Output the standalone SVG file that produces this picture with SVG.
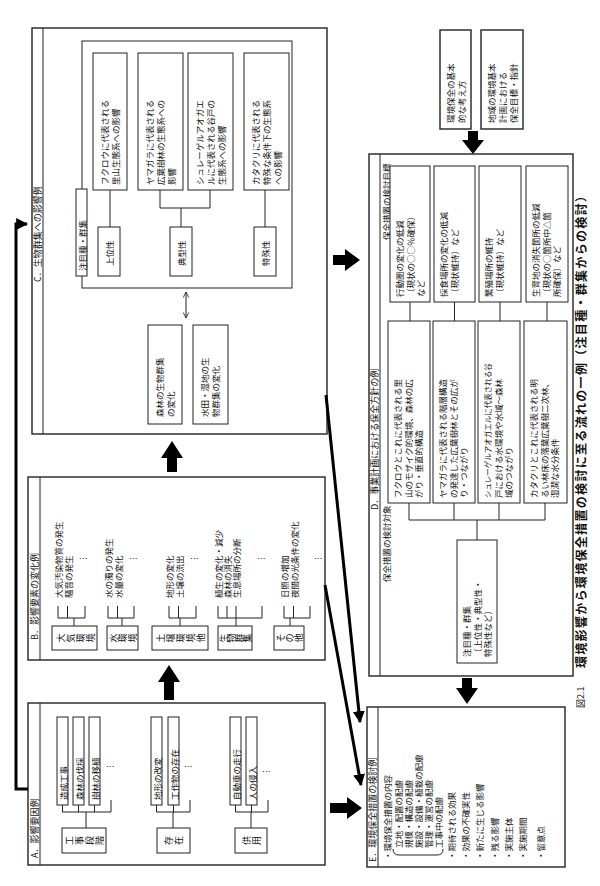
<svg xmlns="http://www.w3.org/2000/svg" width="600" height="886" viewBox="0 0 600 886">
<defs>
<style>
.bx{fill:#fff;stroke:#222;stroke-width:1}
.pn{fill:#fff;stroke:#222;stroke-width:1.4}
.ln{fill:none;stroke:#222;stroke-width:1}
.th{fill:none;stroke:#000;stroke-width:3}
.fa{fill:#000}
text{font-family:"Noto Sans CJK JP","Noto Sans CJK SC",sans-serif;font-size:8.5px;fill:#111}
.u{dominant-baseline:central}
.lb{font-size:9px}
.c{font-size:9px;text-anchor:middle;dominant-baseline:central}
.ti{font-size:12px;font-weight:bold}
</style>
<marker id="ah" viewBox="0 0 10 10" refX="9" refY="5" markerWidth="4" markerHeight="4" orient="auto"><path d="M0,0L10,5L0,10z" fill="#000"/></marker>
<marker id="oh" viewBox="0 0 10 10" refX="9" refY="5" markerWidth="7" markerHeight="7" orient="auto-start-reverse"><path d="M1,1L9,5L1,9" fill="none" stroke="#222" stroke-width="1.2"/></marker>
</defs>

<!-- Panel A -->
<g id="panelA">
<rect class="pn" x="28" y="703" width="297" height="162"/>
<line class="ln" x1="40" y1="703" x2="40" y2="865"/>
<g transform="translate(34,858) rotate(-90)"><text class="u lb">A．影響要因例</text></g>
<rect class="bx" x="57" y="717" width="11" height="88"/><g transform="translate(62.5,800) rotate(-90)"><text class="u">造成工事</text></g>
<rect class="bx" x="73" y="717" width="11" height="88"/><g transform="translate(78.5,800) rotate(-90)"><text class="u">森林の伐採</text></g>
<rect class="bx" x="89" y="717" width="11" height="88"/><g transform="translate(94.5,800) rotate(-90)"><text class="u">樹林の移植</text></g>
<text x="106" y="770">…</text>
<path class="ln" d="M62.5,805V812M78.5,805V812M94.5,805V812M111,800V812M62.5,812H111M86,812V828"/>
<rect class="bx" x="62" y="828" width="44" height="25"/>
<g transform="translate(69,840.5) rotate(-90)"><text class="c">工</text></g><g transform="translate(79,840.5) rotate(-90)"><text class="c">事</text></g><g transform="translate(89,840.5) rotate(-90)"><text class="c">段</text></g><g transform="translate(99,840.5) rotate(-90)"><text class="c">階</text></g>
<rect class="bx" x="151" y="717" width="11" height="88"/><g transform="translate(156.5,800) rotate(-90)"><text class="u">地形の改変</text></g>
<rect class="bx" x="168" y="717" width="11" height="88"/><g transform="translate(173.5,800) rotate(-90)"><text class="u">工作物の存在</text></g>
<text x="184" y="770">…</text>
<path class="ln" d="M156.5,805V812M173.5,805V812M190,800V812M156.5,812H190M173,812V828"/>
<rect class="bx" x="157" y="828" width="33" height="25"/>
<g transform="translate(168.5,840.5) rotate(-90)"><text class="c">存</text></g><g transform="translate(178.5,840.5) rotate(-90)"><text class="c">在</text></g>
<rect class="bx" x="230" y="717" width="11" height="88"/><g transform="translate(235.5,800) rotate(-90)"><text class="u">自動車の走行</text></g>
<rect class="bx" x="246" y="717" width="11" height="88"/><g transform="translate(251.5,800) rotate(-90)"><text class="u">人の侵入</text></g>
<text x="262" y="775">…</text>
<path class="ln" d="M235.5,805V812M251.5,805V812M268,800V812M235.5,812H268M251,812V828"/>
<rect class="bx" x="235" y="828" width="32" height="25"/>
<g transform="translate(246,840.5) rotate(-90)"><text class="c">供</text></g><g transform="translate(256,840.5) rotate(-90)"><text class="c">用</text></g>
</g>

<!-- Panel B -->
<g id="panelB">
<rect class="pn" x="28" y="477" width="297" height="183"/>
<line class="ln" x1="40" y1="477" x2="40" y2="660"/>
<g transform="translate(34,640) rotate(-90)"><text class="u lb">B．影響要素の変化例</text></g>
<g transform="translate(58,598) rotate(-90)"><text class="u">大気汚染物質の発生<tspan x="0" dy="9.5">騒音の発生</tspan></text></g>
<text x="79" y="562">…</text>
<path class="ln" d="M58,606V618M67.5,606V618M85,606V618M58,618H85M74,618V626"/>
<rect class="bx" x="52" y="626" width="45" height="24"/>
<g transform="translate(60,638) rotate(-90)"><text class="c">大</text></g><g transform="translate(70,638) rotate(-90)"><text class="c">気</text></g><g transform="translate(80,638) rotate(-90)"><text class="c">環</text></g><g transform="translate(90,638) rotate(-90)"><text class="c">境</text></g>
<g transform="translate(108,598) rotate(-90)"><text class="u">水の濁りの発生<tspan x="0" dy="9.5">水量の変化</tspan></text></g>
<text x="129" y="562">…</text>
<path class="ln" d="M108,606V618M117.5,606V618M134,606V618M108,618H134M122,618V626"/>
<rect class="bx" x="107" y="626" width="31" height="24"/>
<g transform="translate(113,638) rotate(-90)"><text class="c">水</text></g><g transform="translate(122.5,638) rotate(-90)"><text class="c">環</text></g><g transform="translate(132,638) rotate(-90)"><text class="c">境</text></g>
<g transform="translate(169,598) rotate(-90)"><text class="u">地形の変化<tspan x="0" dy="9.5">土壌の流出</tspan></text></g>
<text x="190" y="562">…</text>
<path class="ln" d="M169,606V618M178.5,606V618M196,606V618M169,618H196M180,618V626"/>
<rect class="bx" x="152" y="626" width="56" height="24"/>
<g transform="translate(160,638) rotate(-90)"><text class="c">土</text></g><g transform="translate(170,638) rotate(-90)"><text class="c">壌</text></g><g transform="translate(180,638) rotate(-90)"><text class="c">環</text></g><g transform="translate(190,638) rotate(-90)"><text class="c">境</text></g><g transform="translate(200,638) rotate(-90)"><text class="c">他</text></g>
<g transform="translate(218,598) rotate(-90)"><text class="u">植生の変化・減少<tspan x="0" dy="9">森林の消失</tspan><tspan x="0" dy="9">生息場所の分断</tspan></text></g>
<text x="257" y="562">…</text>
<path class="ln" d="M218,606V618M227,606V618M236,606V618M262,606V618M218,618H262M236,618V626"/>
<rect class="bx" x="218" y="626" width="34" height="24"/>
<g transform="translate(223,638) rotate(-90)"><text class="c">生</text></g><g transform="translate(231,638) rotate(-90)"><text class="c">物</text></g><g transform="translate(239,638) rotate(-90)"><text class="c">群</text></g><g transform="translate(247,638) rotate(-90)"><text class="c">集</text></g>
<g transform="translate(284,598) rotate(-90)"><text class="u">日照の増加<tspan x="0" dy="9.5">夜間の光条件の変化</tspan></text></g>
<text x="314" y="562">…</text>
<path class="ln" d="M284,606V618M293.5,606V618M310,606V618M284,618H310M290,618V626"/>
<rect class="bx" x="274" y="626" width="30" height="24"/>
<g transform="translate(280,638) rotate(-90)"><text class="c">そ</text></g><g transform="translate(289,638) rotate(-90)"><text class="c">の</text></g><g transform="translate(298,638) rotate(-90)"><text class="c">他</text></g>
</g>

<!-- Panel C -->
<g id="panelC">
<rect class="pn" x="32" y="28" width="295" height="406"/>
<line class="ln" x1="43" y1="28" x2="43" y2="434"/>
<g transform="translate(37.5,282) rotate(-90)"><text class="u lb">C．生物群集への影響例</text></g>
<rect class="ln" x="82" y="41" width="210" height="247"/>
<rect class="bx" x="93" y="53" width="34" height="137"/>
<g transform="translate(104,185) rotate(-90)"><text class="u">フクロウに代表される<tspan x="0" dy="11">里山生態系への影響</tspan></text></g>
<rect class="bx" x="138" y="53" width="45" height="137"/>
<g transform="translate(149,185) rotate(-90)"><text class="u">ヤマガラに代表される<tspan x="0" dy="11">広葉樹林の生態系への</tspan><tspan x="0" dy="11">影響</tspan></text></g>
<rect class="bx" x="188" y="53" width="45" height="137"/>
<g transform="translate(199,185) rotate(-90)"><text class="u">シュレーゲルアオガエ<tspan x="0" dy="11">ルに代表される谷戸の</tspan><tspan x="0" dy="11">生態系への影響</tspan></text></g>
<rect class="bx" x="244" y="53" width="45" height="137"/>
<g transform="translate(255,185) rotate(-90)"><text class="u">カタクリに代表される<tspan x="0" dy="11">特殊な条件下の生態系</tspan><tspan x="0" dy="11">への影響</tspan></text></g>
<path class="ln" d="M110,190V227M160,190V208M210,190V208M160,208H210M181,208V227M265,190V227"/>
<rect class="bx" x="76" y="189" width="11" height="87"/><g transform="translate(81.5,271) rotate(-90)"><text class="u">注目種・群集</text></g>
<rect class="bx" x="98" y="227" width="22" height="49"/><g transform="translate(109,266) rotate(-90)"><text class="u">上位性</text></g>
<rect class="bx" x="170" y="227" width="22" height="49"/><g transform="translate(181,266) rotate(-90)"><text class="u">典型性</text></g>
<rect class="bx" x="254" y="227" width="22" height="49"/><g transform="translate(265,266) rotate(-90)"><text class="u">特殊性</text></g>
<line class="ln" x1="186" y1="292" x2="186" y2="318" marker-start="url(#oh)" marker-end="url(#oh)"/>
<rect class="bx" x="148" y="325" width="34" height="99"/>
<g transform="translate(159,417) rotate(-90)"><text class="u">森林の生物群集<tspan x="0" dy="11">の変化</tspan></text></g>
<rect class="bx" x="193" y="325" width="35" height="99"/>
<g transform="translate(204,417) rotate(-90)"><text class="u">水田・湿地の生<tspan x="0" dy="11">物群集の変化</tspan></text></g>
</g>

<!-- Top boxes -->
<g id="basic">
<rect class="pn" x="440" y="30" width="31" height="99"/>
<g transform="translate(450,123) rotate(-90)"><text class="u">環境保全の基本<tspan x="0" dy="11">的な考え方</tspan></text></g>
</g>
<g id="plan">
<rect class="pn" x="481" y="30" width="42" height="99"/>
<g transform="translate(491,123) rotate(-90)"><text class="u">地域の環境基本<tspan x="0" dy="11">計画における</tspan><tspan x="0" dy="11">保全目標・指針</tspan></text></g>
</g>

<!-- Panel D -->
<g id="panelD">
<rect class="pn" x="369" y="154" width="204" height="522"/>
<line class="ln" x1="380" y1="154" x2="380" y2="676"/>
<g transform="translate(374.5,510) rotate(-90)"><text class="u lb">D．事業計画における保全方針の例</text></g>
<g transform="translate(385.5,240) rotate(-90)"><text class="u">保全措置の検討目標</text></g>
<g transform="translate(385.5,582) rotate(-90)"><text class="u">保全措置の検討対象</text></g>
<rect class="bx" x="390" y="166" width="40" height="136"/>
<g transform="translate(399,297) rotate(-90)"><text class="u">行動圏の変化の低減<tspan x="0" dy="10.5">（現状の○○％確保）</tspan><tspan x="0" dy="10.5">など</tspan></text></g>
<rect class="bx" x="434" y="166" width="41" height="136"/>
<g transform="translate(443,297) rotate(-90)"><text class="u">採食場所の変化の低減<tspan x="0" dy="10.5">（現状維持）など</tspan></text></g>
<rect class="bx" x="479" y="166" width="42" height="136"/>
<g transform="translate(488,297) rotate(-90)"><text class="u">繁殖場所の維持<tspan x="0" dy="10.5">（現状維持）など</tspan></text></g>
<rect class="bx" x="526" y="166" width="42" height="136"/>
<g transform="translate(535,297) rotate(-90)"><text class="u">生育地の消失箇所の低減<tspan x="0" dy="10.5">（現状の○箇所中△箇</tspan><tspan x="0" dy="10.5">所確保）など</tspan></text></g>
<path class="ln" d="M410,302V321M454.5,302V321M500,302V321M547,302V321"/>
<rect class="bx" x="388" y="321" width="42" height="182"/>
<g transform="translate(397,498) rotate(-90)"><text class="u">フクロウとこれに代表される里<tspan x="0" dy="10.5">山のモザイク的環境、森林の広</tspan><tspan x="0" dy="10.5">がり・垂直的構造</tspan></text></g>
<rect class="bx" x="433" y="321" width="42" height="182"/>
<g transform="translate(442,498) rotate(-90)"><text class="u">ヤマガラに代表される階層構造<tspan x="0" dy="10.5">の発達した広葉樹林とその広が</tspan><tspan x="0" dy="10.5">り・つながり</tspan></text></g>
<rect class="bx" x="478" y="321" width="42" height="182"/>
<g transform="translate(487,498) rotate(-90)"><text class="u"><tspan font-size="7.5">シュレーゲルアオガエルに代表される谷</tspan><tspan x="0" dy="10.5">戸における水環境や水域〜森林</tspan><tspan x="0" dy="10.5">域のつながり</tspan></text></g>
<rect class="bx" x="524" y="321" width="43" height="182"/>
<g transform="translate(533,498) rotate(-90)"><text class="u">カタクリとこれに代表される明<tspan x="0" dy="10.5">るい林床の落葉広葉樹二次林、</tspan><tspan x="0" dy="10.5">湿潤な水分条件</tspan></text></g>
<path class="ln" d="M409,503V520M454,503V520M499,503V520M545,503V520M409,520H545M477,520V540"/>
<rect class="bx" x="457" y="540" width="40" height="123"/>
<g transform="translate(466,657) rotate(-90)"><text class="u">注目種・群集<tspan x="0" dy="10.5">（上位性・典型性・</tspan><tspan x="0" dy="10.5">特殊性など）</tspan></text></g>
</g>

<!-- Panel E -->
<g id="panelE">
<rect class="pn" x="367" y="707" width="198" height="160"/>
<line class="ln" x1="378" y1="707" x2="378" y2="867"/>
<g transform="translate(372.5,862) rotate(-90)"><text class="u lb">E．環境保全措置の検討例</text></g>
<g transform="translate(387,860) rotate(-90)"><text class="u">・環境保全措置の内容</text></g>
<g transform="translate(398,848) rotate(-90)"><text class="u">立地・配置の配慮</text></g>
<g transform="translate(408,848) rotate(-90)"><text class="u">規模・構造の配慮</text></g>
<g transform="translate(418,848) rotate(-90)"><text class="u">施設・設備・植栽の配慮</text></g>
<g transform="translate(428,848) rotate(-90)"><text class="u">管理・運営の配慮</text></g>
<g transform="translate(438,848) rotate(-90)"><text class="u">工事中の配慮</text></g>
<path class="ln" d="M393,849Q393,855 399,855H437Q443,855 443,849"/>
<g transform="translate(451,860) rotate(-90)"><text class="u">・期待される効果</text></g>
<g transform="translate(465,860) rotate(-90)"><text class="u">・効果の不確実性</text></g>
<g transform="translate(479,860) rotate(-90)"><text class="u">・新たに生じる影響</text></g>
<g transform="translate(494,860) rotate(-90)"><text class="u">・残る影響</text></g>
<g transform="translate(508,860) rotate(-90)"><text class="u">・実施主体</text></g>
<g transform="translate(522,860) rotate(-90)"><text class="u">・実施期間</text></g>
<g transform="translate(540,860) rotate(-90)"><text class="u">・留意点</text></g>
</g>

<!-- Title -->
<g id="title">
<g transform="translate(580,668) rotate(-90)"><text class="u ti" textLength="478" lengthAdjust="spacing">環境影響から環境保全措置の検討に至る流れの一例（注目種・群集からの検討）</text></g>
<g transform="translate(580,708) rotate(-90)"><text class="u lb">図2.1</text></g>
</g>

<!-- Connectors -->
<g id="connectors">
<polygon class="fa" points="169,665 158,682 164,682 164,700 174,700 174,682 180,682"/>
<polygon class="fa" points="172,441 161,458 167,458 167,472 177,472 177,458 183,458"/>
<polygon class="fa" points="360,260 345,249 345,255 333,255 333,265 345,265 345,271"/>
<polygon class="fa" points="362,808 347,797 347,803 330,803 330,813 347,813 347,819"/>
<polygon class="fa" points="467,704 456,688 462,688 462,678 472,678 472,688 478,688"/>
<polygon class="fa" points="473,154 462,140 468,140 468,131 478,131 478,140 484,140"/>
<polyline class="th" points="28,789 16,789 16,224 27,224" marker-end="url(#ah)"/>
<line class="th" x1="326" y1="395" x2="360" y2="722" marker-end="url(#ah)"/>
<line class="th" x1="325" y1="585" x2="361" y2="785" marker-end="url(#ah)"/>
</g>
</svg>
